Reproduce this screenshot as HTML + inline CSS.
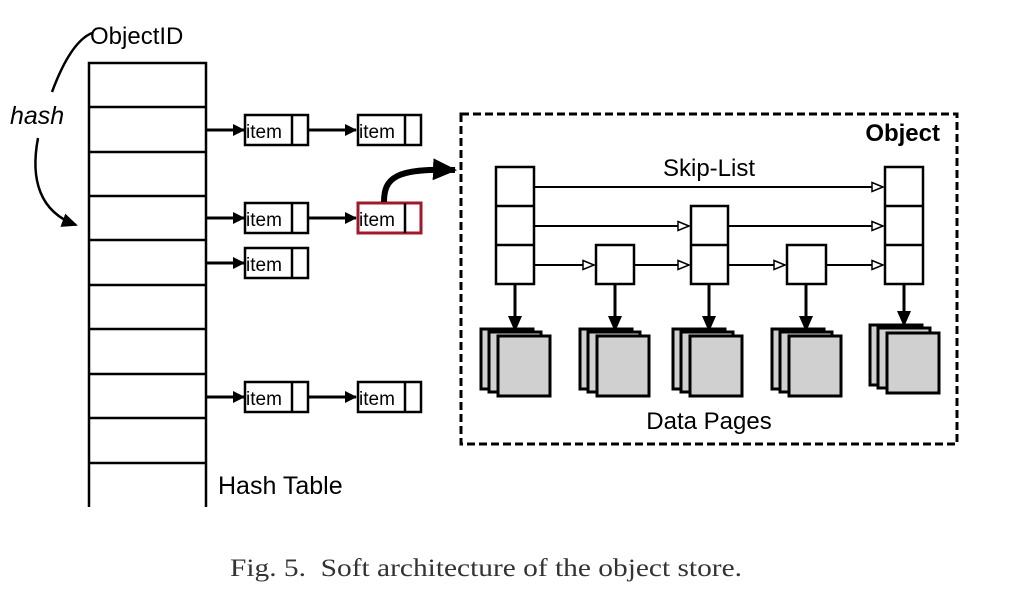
<!DOCTYPE html>
<html><head><style>body{margin:0;background:#fff}</style></head><body>
<svg width="1024" height="596" viewBox="0 0 1024 596" xmlns="http://www.w3.org/2000/svg" font-family="Liberation Sans, sans-serif">
<defs>
<marker id="a" markerWidth="12" markerHeight="12" refX="11" refY="6" orient="auto" markerUnits="userSpaceOnUse"><path d="M0,0 L12,6 L0,12z" fill="#000"/></marker>
<marker id="h" markerWidth="14" markerHeight="12" refX="12" refY="6" orient="auto" markerUnits="userSpaceOnUse"><path d="M1,1.5 L12,6 L1,10.5z" fill="#fff" stroke="#000" stroke-width="1.5"/></marker>
<marker id="b" markerWidth="16" markerHeight="14" refX="14" refY="7" orient="auto" markerUnits="userSpaceOnUse"><path d="M0,0 L16,7 L0,14z" fill="#000"/></marker>
<marker id="c" markerWidth="24" markerHeight="22" refX="22" refY="11" orient="auto" markerUnits="userSpaceOnUse"><path d="M0,0 L24,11 L0,22z" fill="#000"/></marker>
</defs>
<g fill="none" stroke="#000" stroke-width="2.5">
<path d="M89,507 V63 H206 V507"/>
<path d="M89,107H206M89,152H206M89,196H206M89,240H206M89,285H206M89,329H206M89,374H206M89,418H206M89,463H206"/>
</g>
<text x="90" y="44" font-size="24">ObjectID</text>
<text x="10" y="124" font-size="25" font-style="italic">hash</text>
<path d="M52,92 C62,65 75,40 92,33" fill="none" stroke="#000" stroke-width="2.5"/>
<path d="M38,138 C30,180 40,212 76,225" fill="none" stroke="#000" stroke-width="2.5" marker-end="url(#b)"/>
<g stroke="#000" stroke-width="3" marker-end="url(#a)">
<line x1="206" y1="130" x2="244" y2="130"/><line x1="308" y1="130" x2="356" y2="130"/>
<line x1="206" y1="218" x2="244" y2="218"/><line x1="308" y1="218" x2="356" y2="218"/>
<line x1="206" y1="263" x2="244" y2="263"/>
<line x1="206" y1="397" x2="244" y2="397"/><line x1="308" y1="397" x2="356" y2="397"/>
</g>
<g font-size="19">
<g fill="none" stroke="#000" stroke-width="2.5">
<rect x="245" y="115" width="63" height="30"/><line x1="292" y1="115" x2="292" y2="145"/>
<rect x="358" y="115" width="63" height="30"/><line x1="405" y1="115" x2="405" y2="145"/>
<rect x="245" y="203" width="63" height="30"/><line x1="292" y1="203" x2="292" y2="233"/>
<rect x="358" y="203" width="63" height="30" stroke="#a0182a" stroke-width="3"/><line x1="405" y1="203" x2="405" y2="233"/>
<rect x="245" y="248" width="63" height="30"/><line x1="292" y1="248" x2="292" y2="278"/>
<rect x="245" y="382" width="63" height="30"/><line x1="292" y1="382" x2="292" y2="412"/>
<rect x="358" y="382" width="63" height="30"/><line x1="405" y1="382" x2="405" y2="412"/>
</g>
<text x="246" y="138">item</text><text x="359" y="138">item</text>
<text x="246" y="226">item</text><text x="359" y="226">item</text>
<text x="246" y="271">item</text>
<text x="246" y="405">item</text><text x="359" y="405">item</text>
</g>
<path d="M384,202 C384,178 395,168 455,170" fill="none" stroke="#000" stroke-width="6" marker-end="url(#c)"/>
<rect x="461" y="114" width="496" height="330" fill="none" stroke="#000" stroke-width="3" stroke-dasharray="8,4"/>
<text x="940" y="141" font-size="24" font-weight="bold" text-anchor="end">Object</text>
<text x="709" y="176" font-size="24" text-anchor="middle">Skip-List</text>
<text x="709" y="429" font-size="24" text-anchor="middle">Data Pages</text>
<text x="218" y="494" font-size="25">Hash Table</text>
<g fill="#fff" stroke="#000" stroke-width="2.5">
<rect x="496" y="167" width="38" height="117"/><path d="M496,206H534M496,245H534" fill="none"/>
<rect x="885" y="167" width="38" height="117"/><path d="M885,206H923M885,245H923" fill="none"/>
<rect x="691" y="206" width="37" height="78"/><path d="M691,245H728" fill="none"/>
<rect x="596" y="245" width="38" height="39"/>
<rect x="787" y="245" width="39" height="39"/>
</g>
<g stroke="#000" stroke-width="2" marker-end="url(#h)">
<line x1="534" y1="187" x2="883" y2="187"/>
<line x1="534" y1="226" x2="689" y2="226"/><line x1="728" y1="226" x2="883" y2="226"/>
<line x1="534" y1="265" x2="594" y2="265"/><line x1="634" y1="265" x2="689" y2="265"/>
<line x1="728" y1="265" x2="785" y2="265"/><line x1="826" y1="265" x2="883" y2="265"/>
</g>
<g stroke="#000" stroke-width="3" marker-end="url(#b)">
<line x1="515" y1="284" x2="515" y2="330"/><line x1="615" y1="284" x2="615" y2="330"/>
<line x1="709" y1="284" x2="709" y2="330"/><line x1="806" y1="284" x2="806" y2="330"/>
<line x1="904" y1="284" x2="904" y2="325"/>
</g>
<g fill="#d0d0d0" stroke="#000" stroke-width="3">
<g transform="translate(481,329)"><rect width="52" height="60"/><rect x="8" y="3" width="52" height="60"/><rect x="17" y="7" width="52" height="60"/></g>
<g transform="translate(580,329)"><rect width="52" height="60"/><rect x="8" y="3" width="52" height="60"/><rect x="17" y="7" width="52" height="60"/></g>
<g transform="translate(673,329)"><rect width="52" height="60"/><rect x="8" y="3" width="52" height="60"/><rect x="17" y="7" width="52" height="60"/></g>
<g transform="translate(772,329)"><rect width="52" height="60"/><rect x="8" y="3" width="52" height="60"/><rect x="17" y="7" width="52" height="60"/></g>
<g transform="translate(870,325)"><rect width="52" height="60"/><rect x="8" y="3" width="52" height="60"/><rect x="17" y="8" width="52" height="60"/></g>
</g>
<text x="230" y="576" font-size="25" font-family="Liberation Serif, serif" fill="#333" textLength="512" lengthAdjust="spacingAndGlyphs">Fig. 5.&#160;&#160;Soft architecture of the object store.</text>
</svg>
</body></html>
